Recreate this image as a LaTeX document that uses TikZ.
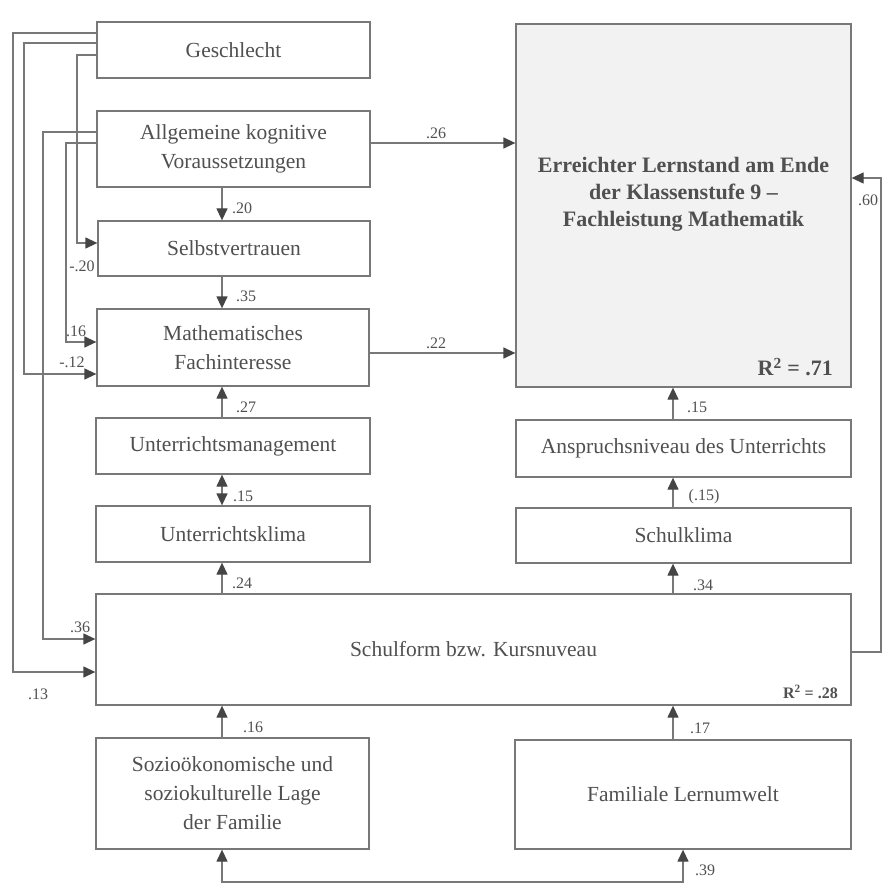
\documentclass[tikz,border=0pt]{standalone}
\usepackage{fontspec}
\setmainfont{Liberation Serif}
\usetikzlibrary{arrows.meta}
\definecolor{txt}{HTML}{505050}
\definecolor{ln}{HTML}{787878}
\definecolor{tipc}{HTML}{454545}
\definecolor{fillg}{HTML}{F2F2F2}
\begin{document}
\begin{tikzpicture}[x=1pt,y=-1pt,
  box/.style={draw=ln, line width=1.3pt, text=txt, align=center, inner sep=0pt,
    font=\fontsize{21.5}{29}\selectfont},
  conn/.style={draw=ln, line width=1.3pt, -{Triangle[length=12pt,width=11pt,color=tipc]}},
  dconn/.style={draw=ln, line width=1.3pt, {Triangle[length=12pt,width=11pt,color=tipc]}-{Triangle[length=12pt,width=11pt,color=tipc]}},
  lab/.style={text=txt, inner sep=0pt, font=\fontsize{16}{18}\selectfont}]
\fill[white] (0,0) rectangle (882,890);
\useasboundingbox (0,0) rectangle (882,890);

% boxes
\node[box, minimum width=273pt, minimum height=56pt] (gesch) at (233.5,50) {Geschlecht};
\node[box, minimum width=273pt, minimum height=76pt] (allg) at (233.5,149) {Allgemeine kognitive\\Voraussetzungen};
\node[box, minimum width=272pt, minimum height=55pt] (selbst) at (234,248.5) {Selbstvertrauen};
\node[box, minimum width=272pt, minimum height=77pt] (math) at (233,347.5) {Mathematisches\\Fachinteresse};
\node[box, minimum width=274pt, minimum height=56pt] (mgmt) at (233,446) {Unterrichtsmanagement};
\node[box, minimum width=274pt, minimum height=56pt] (uklima) at (233,534) {Unterrichtsklima};
\node[box, minimum width=755pt, minimum height=111pt] (schulform) at (473.5,649.5) {Schulform bzw. Kursnuveau};
\node[box, minimum width=273pt, minimum height=111pt] (sozio) at (232.5,793.5) {Sozioökonomische und\\soziokulturelle Lage\\der Familie};
\node[box, minimum width=336pt, minimum height=109pt] (famil) at (683,794.5) {Familiale Lernumwelt};
\node[box, fill=fillg, minimum width=335pt, minimum height=363pt] (erreicht) at (683.5,205.5) {};
\node[box, minimum width=335pt, minimum height=57pt] (anspruch) at (683.5,448.5) {Anspruchsniveau des Unterrichts};
\node[box, minimum width=335pt, minimum height=55pt] (sklima) at (683.5,535.5) {Schulklima};

\node[text=txt, align=center, inner sep=0pt, font=\fontsize{22}{27}\selectfont\bfseries] (erreichtT) at (683.5,194)
  {Erreichter Lernstand am Ende\\der Klassenstufe 9 --\\Fachleistung Mathematik};
\node[text=txt, inner sep=0pt, anchor=east, font=\fontsize{22}{26}\selectfont\bfseries] (r71) at (833,367) {R\textsuperscript{2} = .71};
\node[text=txt, inner sep=0pt, anchor=east, font=\fontsize{16}{18}\selectfont\bfseries] (r28) at (838,692) {R\textsuperscript{2} = .28};

% helper coordinates
\coordinate (xl) at (222,0);
\coordinate (xr) at (673,0);
\coordinate (x683) at (683,0);
\coordinate (x13) at (13,0);
\coordinate (x24) at (24,0);
\coordinate (x77) at (77,0);
\coordinate (x43) at (43,0);
\coordinate (x66) at (66,0);
\coordinate (x881) at (881,0);
\coordinate (y33) at (0,33);
\coordinate (y43) at (0,43);
\coordinate (y55) at (0,55);
\coordinate (y132) at (0,132);
\coordinate (y143) at (0,143);
\coordinate (y243) at (0,243);
\coordinate (y342) at (0,342);
\coordinate (y374) at (0,374);
\coordinate (y639) at (0,639);
\coordinate (y672) at (0,672);
\coordinate (y353) at (0,353);
\coordinate (y652) at (0,652);
\coordinate (y178) at (0,178);
\coordinate (y882) at (0,882);

% vertical left column
\draw[conn] (allg.south -| xl) -- (selbst.north -| xl);
\draw[conn] (selbst.south -| xl) -- (math.north -| xl);
\draw[conn] (mgmt.north -| xl) -- (math.south -| xl);
\draw[dconn] (mgmt.south -| xl) -- (uklima.north -| xl);
\draw[conn] (schulform.north -| xl) -- (uklima.south -| xl);
\draw[conn] (sozio.north -| xl) -- (schulform.south -| xl);

% vertical right column
\draw[conn] (anspruch.north -| xr) -- (erreicht.south -| xr);
\draw[conn] (sklima.north -| xr) -- (anspruch.south -| xr);
\draw[conn] (schulform.north -| xr) -- (sklima.south -| xr);
\draw[conn] (famil.north -| xr) -- (schulform.south -| xr);

% horizontal to target
\draw[conn] (allg.east |- y143) -- (erreicht.west |- y143);
\draw[conn] (math.east |- y353) -- (erreicht.west |- y353);

% left side paths
\draw[conn] (gesch.west |- y33) -- (x13 |- y33) -- (x13 |- y672) -- (schulform.west |- y672);
\draw[conn] (gesch.west |- y43) -- (x24 |- y43) -- (x24 |- y374) -- (math.west |- y374);
\draw[conn] (gesch.west |- y55) -- (x77 |- y55) -- (x77 |- y243) -- (selbst.west |- y243);
\draw[conn] (allg.west |- y132) -- (x43 |- y132) -- (x43 |- y639) -- (schulform.west |- y639);
\draw[conn] (allg.west |- y143) -- (x66 |- y143) -- (x66 |- y342) -- (math.west |- y342);

% right side path
\draw[conn] (schulform.east |- y652) -- (x881 |- y652) -- (x881 |- y178) -- (erreicht.east |- y178);

% bottom correlation
\draw[dconn] (sozio.south -| xl) -- (xl |- y882) -- (x683 |- y882) -- (famil.south -| x683);

% labels
\node[lab] (l26) at (436,133) {.26};
\node[lab] (l22) at (436,343) {.22};
\node[lab] (l20) at (242,208) {.20};
\node[lab] (l35) at (246,296) {.35};
\node[lab] (l27) at (246,407) {.27};
\node[lab] (l15a) at (243,496) {.15};
\node[lab] (l24) at (242,583) {.24};
\node[lab] (l16b) at (253,727) {.16};
\node[lab] (l15b) at (697,407) {.15};
\node[lab] (l15c) at (704,497) {(.15)};
\node[lab] (l34) at (703,585) {.34};
\node[lab] (l17) at (700,728) {.17};
\node[lab] (l39) at (705,870) {.39};
\node[lab] (l60) at (868,200) {.60};
\node[lab] (lm20) at (82,266) {-.20};
\node[lab] (l16a) at (76,331) {.16};
\node[lab] (lm12) at (72,362) {-.12};
\node[lab] (l36) at (80,627) {.36};
\node[lab] (l13) at (38,694) {.13};
\end{tikzpicture}
\end{document}
